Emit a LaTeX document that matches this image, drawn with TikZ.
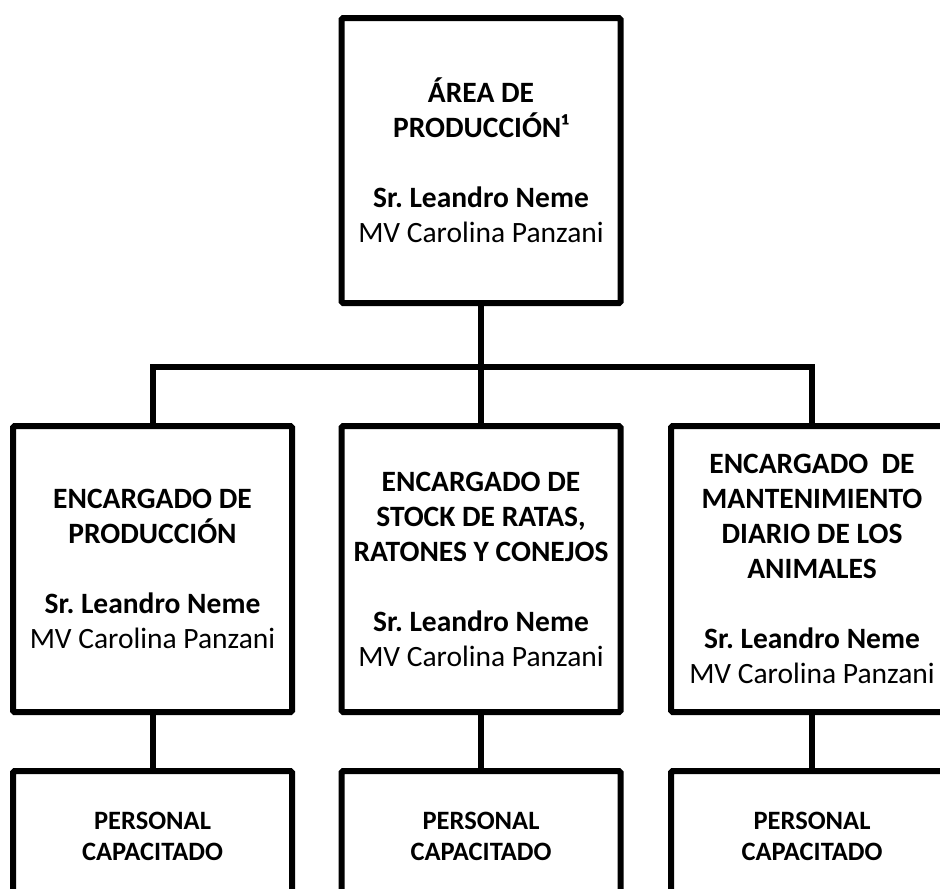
\documentclass[tikz,border=0pt]{standalone}
\usepackage{fontspec}
\setmainfont{Carlito}
\frenchspacing
\begin{document}
\begin{tikzpicture}[x=1pt,y=-1pt,
  box/.style={draw=black, line width=6pt, rectangle, rounded corners=1.5pt, inner sep=0pt,
    minimum width=279pt, align=center, text=black,
    font=\fontsize{29.5}{35}\selectfont},
  lowbox/.style={box, minimum height=130pt, font=\fontsize{26.5}{31}\selectfont\bfseries},
  link/.style={draw=black, line width=6pt}]
\useasboundingbox (0,0) rectangle (940,889);
\clip (0,0) rectangle (940,889);
\node[box, minimum height=285pt] (top) at (481,160.5)
  {\textbf{ÁREA DE}\\ \textbf{PRODUCCIÓN¹}\\[35pt] \textbf{Sr. Leandro Neme}\\ MV Carolina Panzani};
\node[box, minimum height=286pt] (l) at (152.5,569)
  {\textbf{ENCARGADO DE}\\ \textbf{PRODUCCIÓN}\\[35pt] \textbf{Sr. Leandro Neme}\\ MV Carolina Panzani};
\node[box, minimum height=286pt] (m) at (481,569)
  {\textbf{ENCARGADO DE}\\ \textbf{STOCK DE RATAS,}\\ \textbf{RATONES Y CONEJOS}\\[35pt] \textbf{Sr. Leandro Neme}\\ MV Carolina Panzani};
\node[box, minimum height=286pt, minimum width=282pt] (r) at (812,569)
  {\textbf{ENCARGADO\ \ DE}\\ \textbf{MANTENIMIENTO}\\ \textbf{DIARIO DE LOS}\\ \textbf{ANIMALES}\\[35pt] \textbf{Sr. Leandro Neme}\\ MV Carolina Panzani};
\node[lowbox] (pl) at (152.5,836) {PERSONAL\\ CAPACITADO};
\node[lowbox] (pm) at (481,836) {PERSONAL\\ CAPACITADO};
\node[lowbox, minimum width=282pt] (pr) at (812,836) {PERSONAL\\ CAPACITADO};
\coordinate (h) at (481,367);
\draw[link] (top.south) -- (h) -- (m.north);
\draw[link] (l.north) |- (h);
\draw[link] (r.north) |- (h);
\draw[link] (l.south) -- (pl.north);
\draw[link] (m.south) -- (pm.north);
\draw[link] (r.south) -- (pr.north);
\end{tikzpicture}
\end{document}
